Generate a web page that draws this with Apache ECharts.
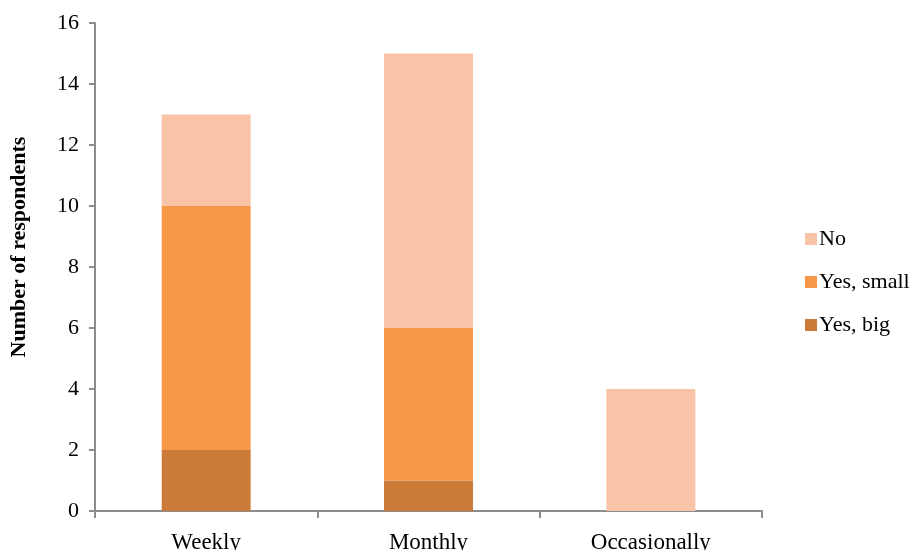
<!DOCTYPE html>
<html>
<head>
<meta charset="utf-8">
<script src="https://cdn.jsdelivr.net/npm/echarts@6/dist/echarts.min.js"></script>
<style>
  html, body { margin: 0; padding: 0; background: #fff; }
  #chart { width: 917px; height: 550px; }
</style>
</head>
<body>
<div id="chart"></div>
<script>
// categories and values
var categories = ['Weekly', 'Monthly', 'Occasionally'];
var yesBig = [2, 1, 0];
var yesSmall = [8, 5, 0];
var no = [3, 9, 4];

var font = 'Liberation Serif';
var axisGrey = '#8c8c8c';

var chart = echarts.init(document.getElementById('chart'));
chart.setOption({
  animation: false,
  textStyle: { fontFamily: font },
  grid: { left: 95, right: 155, top: 23, bottom: 39, containLabel: false, outerBoundsMode: 'none' },
  legend: {
    orient: 'vertical',
    left: 800,
    top: 223,
    itemWidth: 12,
    itemHeight: 12,
    itemGap: 21,
    icon: 'rect',
    data: ['No', 'Yes, small', 'Yes, big'],
    textStyle: { fontFamily: font, fontSize: 22, color: '#000', padding: [0, 0, 0, -3] }
  },
  xAxis: {
    type: 'category',
    data: categories,
    axisLine: { lineStyle: { color: axisGrey, width: 2 } },
    axisTick: { show: true, length: 7, lineStyle: { color: axisGrey, width: 2 } },
    axisLabel: { color: '#000', fontSize: 23, margin: 20, fontFamily: font }
  },
  yAxis: {
    type: 'value',
    min: 0,
    max: 16,
    interval: 2,
    name: 'Number of respondents',
    nameLocation: 'middle',
    nameGap: 65,
    nameTextStyle: { color: '#000', fontSize: 22, fontWeight: 'bold', fontFamily: font, padding: [0, 0, 0, 40] },
    splitLine: { show: false },
    axisLine: { show: true, lineStyle: { color: axisGrey, width: 2 } },
    axisTick: { show: true, length: 6, lineStyle: { color: axisGrey, width: 2 } },
    axisLabel: { color: '#000', fontSize: 22, margin: 16, fontFamily: font }
  },
  series: [
    { name: 'Yes, big', type: 'bar', stack: 'a', data: yesBig, barWidth: '40%', itemStyle: { color: '#cc7a38' } },
    { name: 'Yes, small', type: 'bar', stack: 'a', data: yesSmall, barWidth: '40%', itemStyle: { color: '#f79848' } },
    { name: 'No', type: 'bar', stack: 'a', data: no, barWidth: '40%', itemStyle: { color: '#f9c3a8' } }
  ]
});
</script>
</body>
</html>
